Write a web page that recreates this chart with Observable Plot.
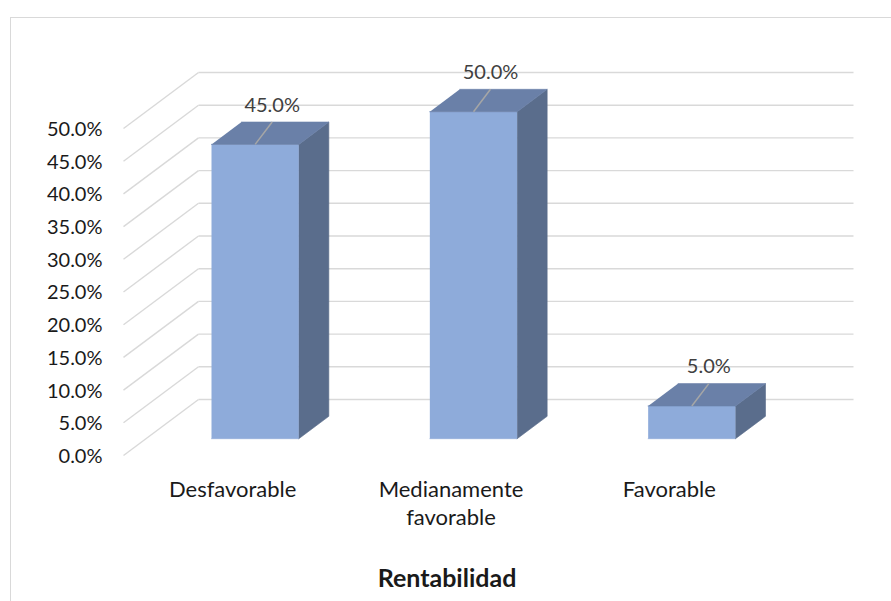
<!DOCTYPE html>
<html>
<head>
<meta charset="utf-8">
<script src="https://cdn.jsdelivr.net/npm/d3@7"></script>
<script src="https://cdn.jsdelivr.net/npm/@observablehq/plot@0.6"></script>
<style>
  body { margin: 0; background: #fff; }
  #chart { position: relative; width: 891px; height: 601px; overflow: hidden; font-family: Lato, "Noto Sans", sans-serif; }
  #frame { position: absolute; left: 10px; top: 17px; width: 900px; height: 620px; border: 1.5px solid #d9d9d9; box-sizing: border-box; }
  #chart svg { position: absolute; left: 0; top: 0; }
</style>
</head>
<body>
<div id="chart"><div id="frame"></div></div>
<script>
// Rentabilidad: share of responses per category
const categories = ["Desfavorable", "Medianamente\nfavorable", "Favorable"];
const values = [0.45, 0.50, 0.05];
const tickValues = [0, 0.05, 0.10, 0.15, 0.20, 0.25, 0.30, 0.35, 0.40, 0.45, 0.50];
const axisTitle = "Rentabilidad";

// Layout (pixels)
const W = 891, H = 601;
const mLeft = 123, mRight = 113, mTop = 128, mBottom = 146;
const xDomain = [0, categories.length];
const yDomain = [0, 0.5];
const kx = (W - mLeft - mRight) / (xDomain[1] - xDomain[0]); // px per category unit
const ky = (H - mTop - mBottom) / (yDomain[1] - yDomain[0]); // px per value unit

// Oblique depth of the 3D box (full wall depth), expressed in data units
const WX = 75 / kx;
const WY = 56 / ky;
const Z0 = 0.3, Z1 = 0.7;     // bar front / back depth
const LEAD = 17 / kx;         // horizontal run of the label leader line

const fmt = d3.format(".1%");
const proj = (x, v, z) => ({x: x + z * WX, y: v + z * WY});

// Faces of each bar as polygons
const frontFaces = [], sideFaces = [], topFaces = [];
values.forEach((v, i) => {
  const xl = i + 0.3, xr = i + 0.7;
  [[xl, 0, Z0], [xr, 0, Z0], [xr, v, Z0], [xl, v, Z0]].forEach(p => frontFaces.push({bar: i, ...proj(...p)}));
  [[xr, 0, Z0], [xr, 0, Z1], [xr, v, Z1], [xr, v, Z0]].forEach(p => sideFaces.push({bar: i, ...proj(...p)}));
  [[xl, v, Z0], [xr, v, Z0], [xr, v, Z1], [xl, v, Z1]].forEach(p => topFaces.push({bar: i, ...proj(...p)}));
});

const gridColor = "#d9d9d9";

const plot = Plot.plot({
  width: W,
  height: H,
  marginLeft: mLeft,
  marginRight: mRight,
  marginTop: mTop,
  marginBottom: mBottom,
  x: {domain: xDomain, axis: null},
  y: {domain: yDomain, axis: null},
  style: {fontFamily: "Lato, 'Noto Sans', sans-serif", background: "transparent", overflow: "visible"},
  marks: [
    // left wall gridlines (diagonals)
    Plot.link(tickValues, {
      x1: () => 0, y1: d => d,
      x2: () => WX, y2: d => d + WY,
      stroke: gridColor, strokeWidth: 1.4
    }),
    // back wall gridlines
    Plot.link(tickValues, {
      x1: () => WX, y1: d => d + WY,
      x2: () => xDomain[1] + WX, y2: d => d + WY,
      stroke: gridColor, strokeWidth: 1.4
    }),
    // bars
    Plot.line(frontFaces, {x: "x", y: "y", z: "bar", fill: "#8eabda", stroke: "#8eabda", strokeWidth: 0.6}),
    Plot.line(sideFaces, {x: "x", y: "y", z: "bar", fill: "#5a6d8c", stroke: "#5a6d8c", strokeWidth: 0.6}),
    Plot.line(topFaces, {x: "x", y: "y", z: "bar", fill: "#6a80a8", stroke: "#6a80a8", strokeWidth: 0.6}),
    // leader lines and value labels
    Plot.link(values, {
      x1: (d, i) => i + 0.5 + Z0 * WX, y1: d => d + Z0 * WY,
      x2: (d, i) => i + 0.5 + Z0 * WX + LEAD, y2: d => d + Z1 * WY,
      stroke: "#a6a6a6", strokeWidth: 1.5
    }),
    Plot.text(values, {
      x: (d, i) => i + 0.5 + Z0 * WX, y: d => d + Z0 * WY,
      text: d => fmt(d), dx: 17, dy: -39,
      fill: "#404040", fontSize: 20
    }),
    // value axis labels
    Plot.text(tickValues, {
      x: () => 0, y: d => d, text: d => fmt(d),
      textAnchor: "end", dx: -21, dy: 1, fill: "#1a1a1a", fontSize: 20
    }),
    // category labels
    Plot.text(categories, {
      x: (d, i) => i + 0.5, y: () => 0, text: d => d,
      lineAnchor: "top", dy: 22, lineHeight: 1.27,
      fill: "#1a1a1a", fontSize: 22
    }),
    // axis title
    Plot.text([axisTitle], {
      x: () => xDomain[1] / 2, y: () => 0, text: d => d,
      dx: -4, dy: 123, fontWeight: "bold", fill: "#1a1a1a", fontSize: 25
    })
  ]
});

document.getElementById("chart").appendChild(plot);
</script>
</body>
</html>
